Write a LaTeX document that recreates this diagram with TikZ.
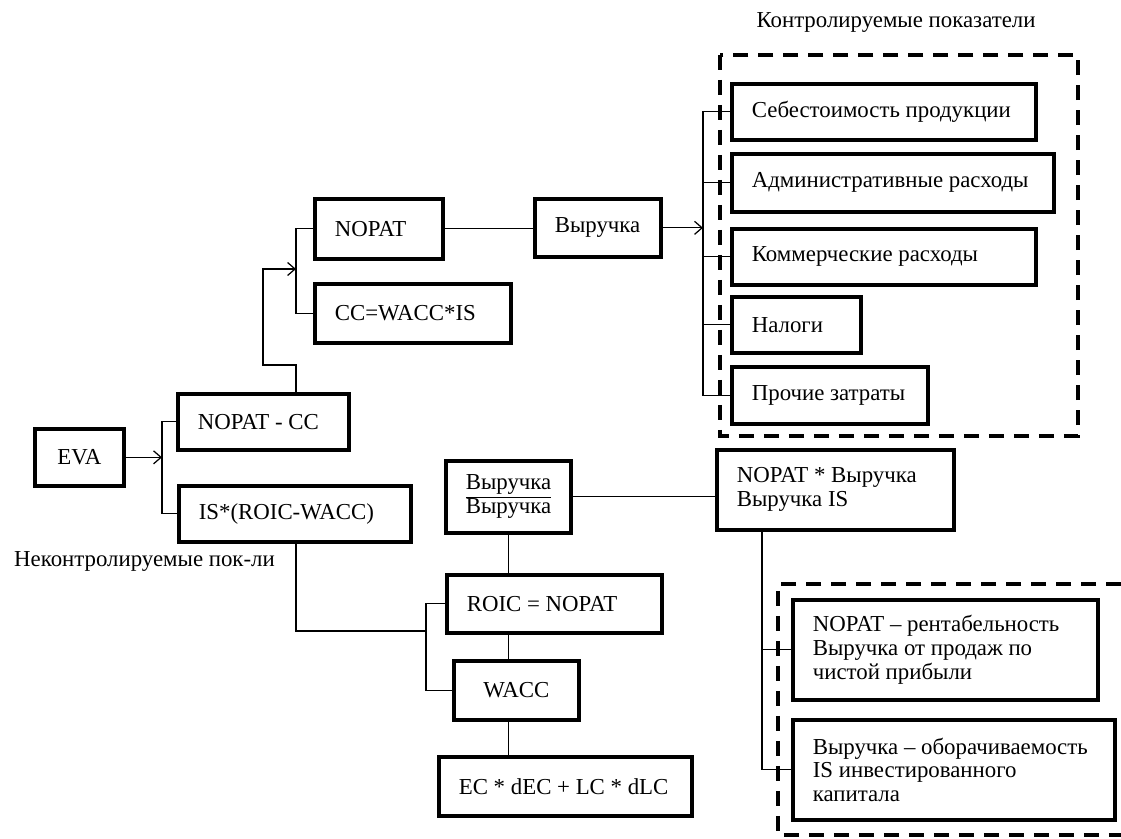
\documentclass[tikz,border=0pt]{standalone}
\usepackage{fontspec}
\setmainfont{Liberation Serif}
\usetikzlibrary{calc, arrows.meta}
\tikzset{every node/.style={font=\fontsize{13}{13.6}\selectfont}}
\tikzset{box/.style={draw, line width=2.1pt, anchor=north west, inner xsep=0.4cm, inner ysep=0pt, align=left,
  execute at begin node={\spaceskip=0pt\xspaceskip=0pt\relax}}}
\tikzset{link/.style={line width=0.7pt, >={Straight Barb[length=1.5mm, width=2.6mm]}}}
\tikzset{zone/.style={line width=2.2pt, dash pattern=on 0.3cm off 0.2cm}}

\begin{document}
\begin{tikzpicture}[x=0.02cm, y=-0.02cm]
  \useasboundingbox (0, 0) rectangle (1121, 838);

  % zones
  \draw[zone] (720, 55) rectangle (1078, 436);
  \draw[zone] (1121, 584) -- (778, 584) -- (778, 835) -- (1121, 835);
  \node at (896, 22) (ctrl) {Контролируемые показатели};
  \node[anchor=west] at (8, 561) (unctrl) {Неконтролируемые пок-ли};

  % boxes
  \node[box, text width=0.98cm, minimum height=1.14cm, align=center] at (33, 427) (eva) {EVA};
  \node[box, text width=2.62cm, minimum height=1.12cm] at (176, 392) (nopatcc) {NOPAT - CC};
  \node[box, text width=3.84cm, minimum height=1.12cm] at (177, 484) (isroic) {IS*(ROIC-WACC)};
  \node[box, text width=1.76cm, minimum height=1.2cm] at (313, 197) (nopat) {NOPAT};
  \node[box, text width=3.12cm, minimum height=1.18cm] at (313, 282) (cc) {CC=WACC*IS};
  \node[box, text width=1.72cm, minimum height=1.16cm] at (533, 197) (rev) {Выручка};

  \node[box, text width=5.28cm, minimum height=1.12cm] at (730, 82) (cost) {Себестоимость продукции};
  \node[box, text width=5.64cm, minimum height=1.16cm] at (730, 152) (admin) {Административные расходы};
  \node[box, text width=5.28cm, minimum height=1.12cm] at (730, 227) (comm) {Коммерческие расходы};
  \node[box, text width=1.78cm, minimum height=1.12cm] at (730, 295) (tax) {Налоги};
  \node[box, text width=3.12cm, minimum height=1.14cm] at (730, 365) (other) {Прочие затраты};

  \node[box, text width=1.7cm, minimum height=1.44cm] at (444, 459) (ratio) {\underline{Выручка}\\Выручка};
  \node[box, text width=3.94cm, minimum height=1.6cm] at (715, 448) (prod) {NOPAT * Выручка\\Выручка IS};
  \node[box, text width=3.5cm, minimum height=1.16cm] at (445, 573) (roic) {ROIC = NOPAT};
  \node[box, text width=1.7cm, minimum height=1.18cm, align=center] at (452, 659) (wacc) {WACC};
  \node[box, text width=4.26cm, minimum height=1.18cm] at (437, 755) (ec) {EC * dEC + LC * dLC};
  \node[box, text width=5.3cm, minimum height=2cm] at (791, 598) (margin) {NOPAT – рентабельность\\Выручка от продаж по\\чистой прибыли};
  \node[box, text width=5.64cm, minimum height=2cm] at (791, 718) (turnover) {Выручка – оборачиваемость\\IS инвестированного\\капитала};

  % joints
  \coordinate (j1) at (162, 460);
  \coordinate (j2) at (296, 269);
  \coordinate (j3) at (703, 226);
  \coordinate (j4) at (426, 631);
  \coordinate (j5) at (762, 528);

  % links
  \draw[link, ->] (eva.east) -- (eva.east -| j1);
  \draw[link] (nopatcc.west) -| (j1) |- (isroic.west);
  \draw[link, ->] (nopatcc.north -| j2) -- ++(0, -27) -- ++(-33, 0) |- (j2);
  \draw[link] (nopat.west) -| (j2) |- (cc.west);
  \draw[link] (nopat.east) -- (nopat.east -| rev.west);
  \draw[link, ->] (rev.east) -- (rev.east -| j3);
  \foreach \n in {cost, admin, comm, tax, other}
    \draw[link] (\n.west) -| (j3);

  \draw[link] (isroic.south -| j2) |- (j4);
  \draw[link] (roic.west) -| (j4) |- (wacc.west);
  \draw[link] (ratio.south) -- (ratio |- roic.north);
  \draw[link] (roic.south -| ratio) -- (ratio |- wacc.north);
  \draw[link] (wacc.south -| ratio) -- (ratio |- ec.north);
  \draw[link] (ratio.east) -- (ratio.east -| prod.west);
  \draw[link] (j5) |- (margin.west);
  \draw[link] (j5) |- (turnover.west);
\end{tikzpicture}
\end{document}
